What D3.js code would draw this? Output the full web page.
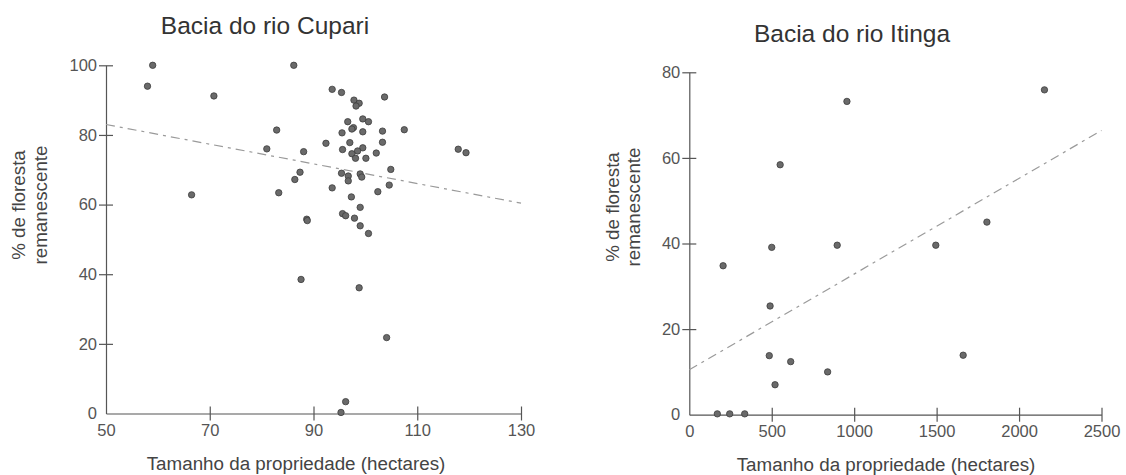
<!DOCTYPE html>
<html>
<head>
<meta charset="utf-8">
<style>
  body { margin: 0; background: #fff; }
  svg { display: block; font-family: "Liberation Sans", Arial, sans-serif; }
  .axis path, .axis line { stroke: #555; stroke-width: 1.2; }
  .axis text { fill: #555; font-size: 16.5px; font-family: "Liberation Sans", Arial, sans-serif; }
</style>
</head>
<body>
<svg id="chart" width="1126" height="475"></svg>
<script src="https://cdn.jsdelivr.net/npm/d3@7"></script>
<script>

  // ---- data: Bacia do rio Cupari ----
  const cupariX = [86.2, 93.6, 95.4, 103.7, 97.8, 98.8, 98.2, 82.9, 96.6, 99.5,
                   100.6, 97.7, 97.4, 95.5, 99.5, 103.3, 107.5, 92.4, 97.0, 103.3,
                   81.0, 88.1, 95.6, 99.5, 98.5, 97.4, 98.1, 100.1, 102.1, 104.9,
                   87.4, 86.4, 95.4, 96.7, 96.7, 99.0, 99.3, 104.6, 102.4, 83.3,
                   93.6, 97.3, 99.0, 88.7, 88.8, 95.6, 96.2, 97.9, 99.0, 100.6,
                   87.6, 98.8, 104.1, 96.2, 95.3, 58.0, 59.0, 70.8, 66.5, 117.9,
                   119.4]
  const cupariY = [100.0, 93.1, 92.2, 90.9, 90.0, 89.1, 88.3, 81.4, 83.8, 84.6,
                   83.8, 82.1, 81.7, 80.6, 80.9, 81.1, 81.5, 77.6, 77.8, 77.9,
                   76.0, 75.2, 75.8, 76.3, 75.4, 74.6, 73.3, 73.3, 74.8, 70.1,
                   69.3, 67.2, 69.0, 68.2, 66.8, 68.8, 67.9, 65.6, 63.7, 63.4,
                   64.8, 62.2, 59.2, 55.8, 55.4, 57.4, 56.8, 56.1, 53.9, 51.7,
                   38.5, 36.1, 21.8, 3.4, 0.3, 94.0, 100.0, 91.2, 62.8, 75.9,
                   74.9]
  const cupariTrendX = [50, 130]
  const cupariTrendY = [83.0, 60.4]
  const cupariXTicks = [50, 70, 90, 110, 130]
  const cupariYTicks = [0, 20, 40, 60, 80, 100]

  // ---- data: Bacia do rio Itinga ----
  const itingaX = [956, 2154, 551, 1805, 205, 500, 897, 1495, 490, 485,
                   615, 520, 839, 1661, 170, 245, 336]
  const itingaY = [73.2, 75.9, 58.4, 45.0, 34.8, 39.1, 39.6, 39.6, 25.4, 13.8,
                   12.4, 7.0, 10.0, 13.9, 0.2, 0.2, 0.2]
  const itingaTrendX = [0, 2500]
  const itingaTrendY = [10.5, 66.4]
  const itingaXTicks = [0, 500, 1000, 1500, 2000, 2500]
  const itingaYTicks = [0, 20, 40, 60, 80]

  const xLabel = "Tamanho da propriedade (hectares)"
  const yLabel = ["% de floresta", "remanescente"]

  const svg = d3.select("#chart")
  const fmt = d3.format("d")

  function drawPanel(p) {
    const x = d3.scaleLinear().domain(p.xDomain).range(p.xRange)
    const y = d3.scaleLinear().domain(p.yDomain).range(p.yRange)
    const g = svg.append("g")

    // x axis (ticks cross the axis line, none at the origin)
    const gx = g.append("g")
      .attr("class", "axis")
      .attr("transform", `translate(0, ${p.yRange[0]})`)
      .call(d3.axisBottom(x).tickValues(p.xTicks).tickFormat(fmt)
        .tickSize(7).tickSizeOuter(0).tickPadding(4))
    gx.selectAll(".tick line").attr("y1", -7).attr("y2", 7)
      .filter(d => d === p.xDomain[0]).remove()

    // y axis
    const gy = g.append("g")
      .attr("class", "axis")
      .attr("transform", `translate(${p.xRange[0]}, 0)`)
      .call(d3.axisLeft(y).tickValues(p.yTicks).tickFormat(fmt)
        .tickSize(7).tickSizeOuter(0).tickPadding(2))
    gy.selectAll(".tick line").attr("x1", -7).attr("x2", 7)
      .filter(d => d === p.yDomain[0]).remove()

    // trend line
    const line = d3.line().x(d => x(d[0])).y(d => y(d[1]))
    g.append("path")
      .datum(d3.zip(p.trendX, p.trendY))
      .attr("d", line)
      .attr("fill", "none")
      .attr("stroke", "#9a9a9a")
      .attr("stroke-width", 1.2)
      .attr("stroke-dasharray", "9,5,3,5")

    // points
    g.selectAll(".dot")
      .data(d3.zip(p.xs, p.ys))
      .enter().append("circle")
        .attr("class", "dot")
        .attr("cx", d => x(d[0]))
        .attr("cy", d => y(d[1]))
        .attr("r", 3.2)
        .attr("fill", "#6a6a6a")
        .attr("stroke", "#3c3c3c")
        .attr("stroke-width", 0.8)

    // title
    g.append("text")
      .attr("x", p.titlePos[0]).attr("y", p.titlePos[1])
      .attr("text-anchor", "middle")
      .style("font-size", "24.5px")
      .style("fill", "#333")
      .text(p.title)

    // x label
    g.append("text")
      .attr("x", p.xLabelPos[0]).attr("y", p.xLabelPos[1])
      .attr("text-anchor", "middle")
      .style("font-size", "18.8px")
      .style("fill", "#444")
      .text(xLabel)

    // y label, two lines
    yLabel.forEach((t, i) => {
      g.append("text")
        .attr("transform", `translate(${p.yLabelX[i]}, ${p.yLabelCy}) rotate(-90)`)
        .attr("text-anchor", "middle")
        .style("font-size", "18.8px")
        .style("fill", "#444")
        .text(t)
    })
  }

  drawPanel({
    title: "Bacia do rio Cupari",
    xs: cupariX, ys: cupariY,
    trendX: cupariTrendX, trendY: cupariTrendY,
    xTicks: cupariXTicks, yTicks: cupariYTicks,
    xDomain: [50, 130], yDomain: [0, 100],
    xRange: [106, 521], yRange: [413.5, 65.3],
    titlePos: [265, 34],
    xLabelPos: [296, 470],
    yLabelX: [25, 47], yLabelCy: 205
  })

  drawPanel({
    title: "Bacia do rio Itinga",
    xs: itingaX, ys: itingaY,
    trendX: itingaTrendX, trendY: itingaTrendY,
    xTicks: itingaXTicks, yTicks: itingaYTicks,
    xDomain: [0, 2500], yDomain: [0, 80],
    xRange: [689.3, 1101.5], yRange: [414.7, 72.3],
    titlePos: [852, 42],
    xLabelPos: [886, 471],
    yLabelX: [619, 640], yLabelCy: 207
  })

</script>
</body>
</html>
